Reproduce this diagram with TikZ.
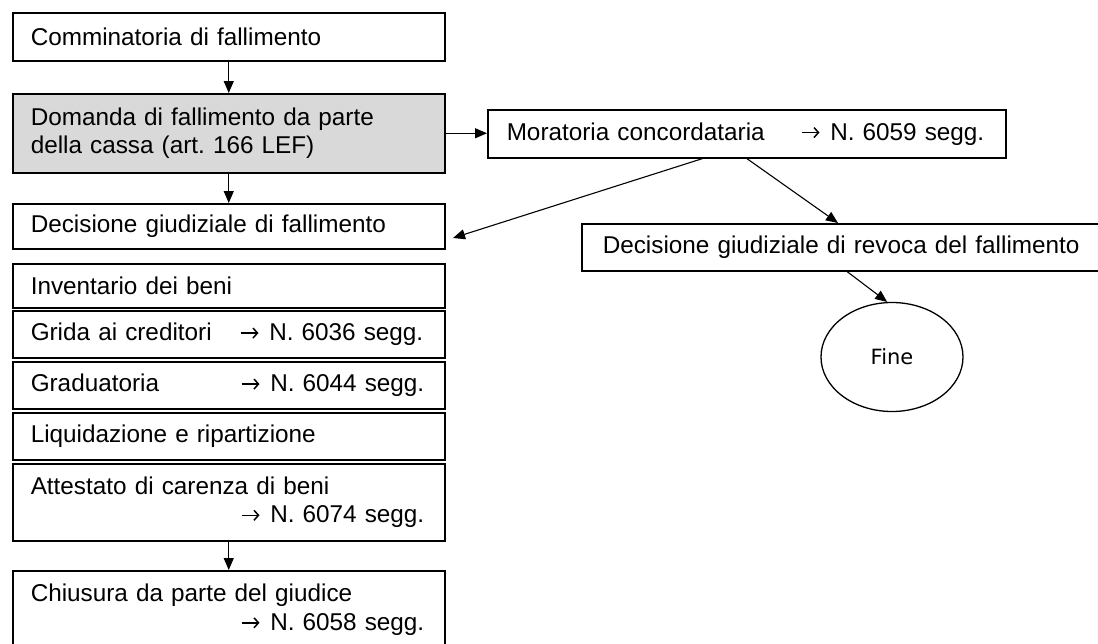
\documentclass[tikz,border=0pt]{standalone}
\usepackage{fontspec}
\setmainfont{Liberation Sans}
\newfontfamily\finefont{DejaVu Sans}
\usetikzlibrary{arrows.meta,calc,shapes.geometric}
\newcommand{\myarr}{\tikz[baseline=0pt]\draw[line width=1.5pt,line cap=butt,-{Straight Barb[length=4.5pt,width=10pt,line width=1.5pt]}] (0pt,7.5pt) -- (18pt,7.5pt);\hspace{10pt}}
\frenchspacing
\begin{document}
\begin{tikzpicture}[x=1pt,y=-1pt,
  stepbox/.style={draw=black,line width=1.5pt,rectangle,anchor=north west,
    inner xsep=18pt,inner ysep=0pt,align=left,
    font=\fontsize{24.3}{28.5}\selectfont},
  conn/.style={draw=black,line width=1.1pt,-{Triangle[length=12pt,width=10pt]}}]
\path[use as bounding box,fill=white] (0,0) rectangle (1098,643);
\clip (0,0) rectangle (1098,643);
% left column
\node[stepbox,text width=396pt,minimum height=48pt] (b1) at (12,12) {Comminatoria di fallimento};
\node[stepbox,text width=396pt,minimum height=79pt,fill=black!15] (b2) at (12,93) {Domanda di fallimento da parte\\della cassa (art. 166 LEF)};
\node[stepbox,text width=396pt,minimum height=45pt] (b3) at (12,203) {Decisione giudiziale di fallimento};
\node[stepbox,text width=396pt,minimum height=44pt] (inv) at (12,263) {Inventario dei beni};
\node[stepbox,text width=396pt,minimum height=47pt] (gri) at (12,310) {\mbox{\makebox[209pt][l]{Grida ai creditori}\myarr N. 6036 segg.}};
\node[stepbox,text width=396pt,minimum height=47pt] (gra) at (12,361) {\mbox{\makebox[210pt][l]{Graduatoria}\myarr N. 6044 segg.}};
\node[stepbox,text width=396pt,minimum height=47pt] (liq) at (12,412) {Liquidazione e ripartizione};
\node[stepbox,text width=396pt,minimum height=77pt] (att) at (12,463) {Attestato di carenza di beni\\\mbox{\hspace*{210pt}\myarr N. 6074 segg.}};
\node[stepbox,text width=396pt,minimum height=78pt] (chi) at (12,570) {Chiusura da parte del giudice\\\mbox{\hspace*{210pt}\myarr N. 6058 segg.}};
% right side
\node[stepbox,inner xsep=19pt,text width=480pt,minimum height=48pt] (mor) at (487,109) {\mbox{\makebox[294pt][l]{Moratoria concordataria}\myarr N. 6059 segg.}};
\node[stepbox,inner xsep=21pt,text width=500pt,minimum height=47pt] (rev) at (581,223) {Decisione giudiziale di revoca del fallimento};
\node[draw=black,line width=1.3pt,ellipse,minimum width=142pt,minimum height=109pt,inner sep=0pt,
  font=\finefont\fontsize{21}{24}\selectfont] (fine) at (892,357) {Fine};
\coordinate (back) at (453,238);
% connectors
\draw[conn] (b1.south) -- (b2.north);
\draw[conn] (b2.south) -- (b3.north);
\draw[conn] (att.south) -- (chi.north);
\draw[conn] (b2.east) -- (b2.east -| mor.west);
\draw[conn] ([xshift=-44pt]mor.south) -- (back);
\draw[conn] (mor.south) -- ($(rev.north west)+(257,0)$);
\draw[conn] ([xshift=-3pt]$(rev.south west)+(269,0)$) -- (fine.95);
\end{tikzpicture}
\end{document}
